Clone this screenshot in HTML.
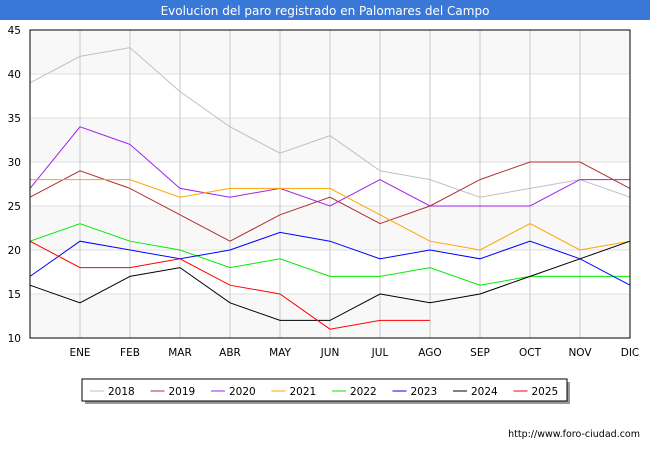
<!DOCTYPE html>
<html><head><meta charset="utf-8"><style>
body{margin:0;width:650px;height:450px;background:#fff;font-family:"DejaVu Sans","Liberation Sans",sans-serif;overflow:hidden}
svg text{font-family:"DejaVu Sans","Liberation Sans",sans-serif}
</style></head><body>
<svg width="650" height="450" xmlns="http://www.w3.org/2000/svg">
<rect x="0" y="0" width="650" height="20" fill="#3a78d8"/>
<text x="325" y="15" text-anchor="middle" fill="#fff" font-size="12">Evolucion del paro registrado en Palomares del Campo</text>
<g id="grid"></g><g id="lines"></g><g id="axes"></g>
<rect x="30" y="30" width="600" height="308" fill="none" stroke="#000" stroke-width="1"/>
<rect x="85" y="382" width="485" height="22" fill="#999"/>
<rect x="82" y="379" width="485" height="22" fill="#fff" stroke="#000" stroke-width="1"/>
<g id="legend"></g>
<text x="640" y="437" text-anchor="end" font-size="9.5" fill="#000">http://www.foro-ciudad.com</text>
</svg>
<script>
const months=["","ENE","FEB","MAR","ABR","MAY","JUN","JUL","AGO","SEP","OCT","NOV","DIC"];
const yTicks=[10,15,20,25,30,35,40,45];
const years=["2018","2019","2020","2021","2022","2023","2024","2025"];
const colors=["#c0c0c0","#b03030","#a020f0","#ffa500","#00ee00","#0000ff","#000000","#ff0000"];
const s2018=[39,42,43,38,34,31,33,29,28,26,27,28,26];
const s2019=[26,29,27,24,21,24,26,23,25,28,30,30,27];
const s2020=[27,34,32,27,26,27,25,28,25,25,25,28,28];
const s2021=[28,28,28,26,27,27,27,24,21,20,23,20,21];
const s2022=[21,23,21,20,18,19,17,17,18,16,17,17,17];
const s2023=[17,21,20,19,20,22,21,19,20,19,21,19,16];
const s2024=[16,14,17,18,14,12,12,15,14,15,17,19,21];
const s2025=[21,18,18,19,16,15,11,12,12];
const series=[s2018,s2019,s2020,s2021,s2022,s2023,s2024,s2025];
const NS="http://www.w3.org/2000/svg";
const X=i=>30+i*(600/12);
const Y=v=>338-(v-10)*(308/35);
function mk(t,a,p){const e=document.createElementNS(NS,t);for(const k in a)e.setAttribute(k,a[k]);p.appendChild(e);return e;}
const grid=document.getElementById('grid'),lines=document.getElementById('lines'),axes=document.getElementById('axes'),leg=document.getElementById('legend');
for(let i=0;i<yTicks.length-1;i++){
 if(i%2===0){const r=mk('rect',{x:30,y:Y(yTicks[i+1]),width:600,height:Y(yTicks[i])-Y(yTicks[i+1]),fill:'#f8f8f8'},grid);
 
 }
}
yTicks.forEach(v=>{
 const l=mk('line',{x1:30,x2:630,y1:Y(v),y2:Y(v),stroke:'#e0e0e0'},grid);
 
 
 const t=mk('text',{x:21,y:Y(v)+4,'text-anchor':'end','font-size':10.5},axes);t.textContent=v;
 
 
});
months.forEach((m,i)=>{
 const l=mk('line',{x1:X(i),x2:X(i),y1:30,y2:338,stroke:'#c8c8c8'},grid);
 
 
 if(m){const t=mk('text',{x:X(i),y:356,'text-anchor':'middle','font-size':10.5},axes);t.textContent=m;
 
 }
});
series.forEach((s,k)=>{
 const p=mk('polyline',{points:s.map((v,i)=>X(i)+','+Y(v)).join(' '),fill:'none',stroke:colors[k],'stroke-width':1},lines);
 
 
});
years.forEach((y,k)=>{
 const x0=90+k*60.5;
 const l=mk('line',{x1:x0,x2:x0+14,y1:391,y2:391,stroke:colors[k],'stroke-width':1},leg);
 
 
 const t=mk('text',{x:x0+18,y:395,'font-size':10.5},leg);t.textContent=y;
 
 
});
</script>
</body></html>
